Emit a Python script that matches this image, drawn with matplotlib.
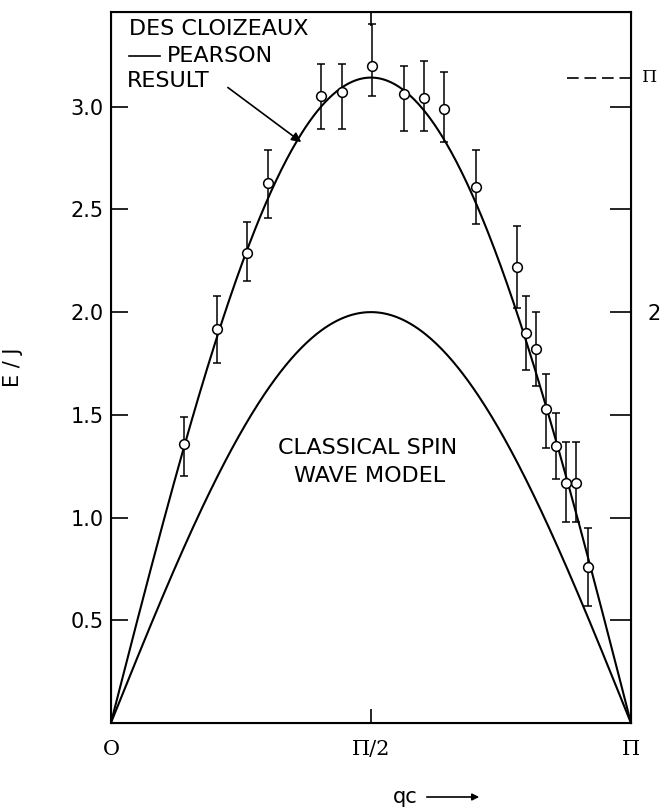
import numpy as np
import matplotlib
matplotlib.use("Agg")
import matplotlib.pyplot as plt

# neutron data, qc in units of pi, E/J with error bar ends
q_frac = [0.140, 0.204, 0.262, 0.302, 0.404, 0.444, 0.502, 0.563, 0.602, 0.640,
          0.702, 0.781, 0.798, 0.817, 0.837, 0.856, 0.875, 0.894, 0.917]
E = [1.36, 1.92, 2.29, 2.63, 3.05, 3.07, 3.20, 3.06, 3.04, 2.99,
     2.61, 2.22, 1.90, 1.82, 1.53, 1.35, 1.17, 1.17, 0.76]
E_low = [1.20, 1.75, 2.15, 2.46, 2.89, 2.89, 3.05, 2.88, 2.88, 2.83,
         2.43, 2.02, 1.72, 1.64, 1.34, 1.19, 0.98, 0.98, 0.57]
E_high = [1.49, 2.08, 2.44, 2.79, 3.21, 3.21, 3.40, 3.20, 3.22, 3.17,
          2.79, 2.42, 2.08, 2.00, 1.70, 1.51, 1.37, 1.37, 0.95]

ytick_vals = [0.5, 1.0, 1.5, 2.0, 2.5, 3.0]
ytick_labels = ['0.5', '1.0', '1.5', '2.0', '2.5', '3.0']
xtick_vals = [0, np.pi / 2, np.pi]
xtick_labels = ['O', 'Π/2', 'Π']
right_labels = ['', '', '', '2', '', '']

q = np.array(q_frac) * np.pi
E = np.array(E)
yerr = [E - np.array(E_low), np.array(E_high) - E]

qq = np.linspace(0, np.pi, 400)
dcp = np.pi * np.sin(qq)        # des Cloizeaux - Pearson
classical = 2 * np.sin(qq)      # classical spin wave

fs = 15
fs_lab = 16
fig = plt.figure(figsize=(6.6, 8.11), dpi=100)
ax = fig.add_axes([0.168, 0.1085, 0.788, 0.8765])

ax.plot(qq, dcp, color='black', lw=1.5)
ax.plot(qq, classical, color='black', lw=1.5)
ax.errorbar(q, E, yerr=yerr, fmt='o', ms=7, mfc='white', mec='black', mew=1.1,
            ecolor='black', elinewidth=1.1, capsize=3, capthick=1.1, zorder=5)

ax.set_xlim(0, np.pi)
ax.set_ylim(0, 3.46)
for s in ax.spines.values():
    s.set_linewidth(1.5)

ax.set_yticks(ytick_vals)
ax.set_yticklabels(ytick_labels, fontsize=fs)
ax.set_xticks(xtick_vals)
ax.set_xticklabels(xtick_labels, fontsize=fs, family='DejaVu Serif')
ax.tick_params(axis='y', direction='in', length=12, width=1.2, pad=5)
ax.tick_params(axis='x', direction='in', length=10, width=1.2, pad=12)
ax.tick_params(axis='x', top=True)

ax2 = ax.twinx()
ax2.set_ylim(ax.get_ylim())
ax2.set_yticks(ytick_vals)
ax2.set_yticklabels(right_labels, fontsize=fs)
ax2.tick_params(axis='y', direction='in', length=15, width=1.2, pad=12)

# pi level mark on the right axis
ytr = ax.get_yaxis_transform()
ax.plot([0.877, 1.0], [np.pi, np.pi], transform=ytr, color='black', lw=1.2,
        ls=(0, (7, 3.5)), clip_on=False)
ax.text(1.021, np.pi, 'Π', transform=ytr, fontsize=12.5, family='DejaVu Serif',
        va='center', ha='left')

ax.set_ylabel('E / J', fontsize=fs)
ax.yaxis.set_label_coords(-0.169, 0.50)

# labels
ax.text(0.035, 0.977, 'DES CLOIZEAUX', transform=ax.transAxes, fontsize=fs_lab,
        va='center', ha='left')
ax.plot([0.035, 0.094], [0.939, 0.939], transform=ax.transAxes, color='black', lw=1.2)
ax.text(0.108, 0.939, 'PEARSON', transform=ax.transAxes, fontsize=fs_lab,
        va='center', ha='left')
ax.text(0.031, 0.903, 'RESULT', transform=ax.transAxes, fontsize=fs_lab,
        va='center', ha='left')
ax.annotate('', xy=(1.15, np.pi * np.sin(1.15) - 0.04), xycoords='data',
            xytext=(0.225, 0.894), textcoords='axes fraction',
            arrowprops=dict(arrowstyle='-|>', color='black', lw=1.2,
                            mutation_scale=14, shrinkA=0, shrinkB=0))

ax.text(1.553, 1.34, 'CLASSICAL SPIN', fontsize=fs_lab, ha='center', va='center')
ax.text(1.56, 1.20, 'WAVE MODEL', fontsize=fs_lab, ha='center', va='center')

fig.text(405 / 660, 1 - 797 / 811, 'qc', fontsize=fs, ha='center', va='center')
fig.add_artist(matplotlib.patches.FancyArrowPatch(
    (424 / 660, 1 - 797 / 811), (482 / 660, 1 - 797 / 811),
    transform=fig.transFigure, arrowstyle='-|>', mutation_scale=10,
    color='black', lw=1.2))

fig.savefig('out.png', dpi=100)
